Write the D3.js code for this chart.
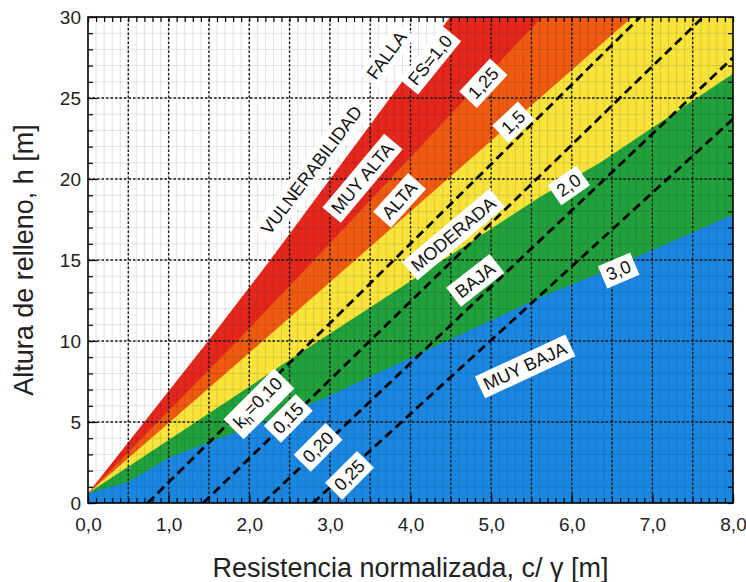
<!DOCTYPE html>
<html>
<head>
<meta charset="utf-8">
<script src="https://cdn.jsdelivr.net/npm/d3@7"></script>
<style>
  body { margin: 0; background: #fff; }
  text { font-family: "Liberation Sans", Arial, sans-serif; }
</style>
</head>
<body>
<div id="container"></div>
<script>
/* CONSTANTS AND GLOBALS */
const width = 746, height = 582;
const margin = { top: 17, left: 88, right: 13, bottom: 79 };

/* DATA */
// FS boundaries, points [c/gamma, h]
const fs10 = [[0, 0.6], [1.49, 10], [2.26, 15], [4.49, 30]];
const fs125 = [[0, 0.6], [1.85, 10], [2.75, 14.7], [5.63, 30]];
const fs15 = [[0, 0.6], [2.17, 10], [6.75, 30]];
const fs20 = [[0, 0.6], [2.63, 9.26], [5.61, 18.9], [6.35, 21.0], [8, 26.5]];
const fs30 = [[0, 0.6], [0.5, 1.3], [1.0, 2.8], [2.88, 6.36], [5.61, 12.7], [6.35, 14.2], [8, 17.8]];

// seismic coefficient lines (dashed)
const kh10 = [[0.74, 0], [6.85, 30]];
const kh15 = [[1.43, 0], [7.63, 30]];
const kh20 = [[2.17, 0], [8, 27.5]];
const kh25 = [[2.79, 0], [8, 23.7]];

// zone colours, from the top zone (red) to the bottom one (blue)
const zoneColors = ["#e4271d", "#ee5a10", "#f9e43c", "#21a03b", "#1b86df"];

// labels
const labelText = ["VULNERABILIDAD", "FALLA", "FS=1,0", "1,25", "1,5", "2,0", "3,0",
  "MUY ALTA", "ALTA", "MODERADA", "BAJA", "MUY BAJA", "k_h=0,10", "0,15", "0,20", "0,25"];
const labelX = [2.77, 3.70, 4.24, 4.90, 5.27, 5.96, 6.58, 3.40, 3.86, 4.53, 4.80, 5.42, 2.11, 2.48, 2.85, 3.24];
const labelY = [20.56, 27.65, 27.35, 25.93, 23.52, 19.63, 14.38, 20.06, 18.70, 16.60, 13.77, 8.46, 6.17, 5.25, 3.46, 1.73];
const labelAngle = [53, 54, 51, 47, 43, 35, 23, 50, 48, 40, 38, 25, 45, 45, 45, 45];

/* SCALES */
const xScale = d3.scaleLinear().domain([0, 8]).range([margin.left, width - margin.right]);
const yScale = d3.scaleLinear().domain([0, 30]).range([height - margin.bottom, margin.top]);

const svg = d3.select("#container")
  .append("svg")
  .attr("width", width)
  .attr("height", height);

svg.append("clipPath")
  .attr("id", "plot-clip")
  .append("rect")
  .attr("x", xScale(0))
  .attr("y", yScale(30))
  .attr("width", xScale(8) - xScale(0))
  .attr("height", yScale(0) - yScale(30));

const line = d3.line().x(d => xScale(d[0])).y(d => yScale(d[1]));

// polygon below / right of a boundary
function zonePolygon(pts) {
  const poly = [[0, 0], ...pts];
  const last = pts[pts.length - 1];
  if (last[1] >= 30 && last[0] < 8) poly.push([8, 30]);
  poly.push([8, 0]);
  return poly;
}

const plot = svg.append("g").attr("clip-path", "url(#plot-clip)");

// ZONES ----------------------------------------------
plot.selectAll(".zone")
  .data([fs10, fs125, fs15, fs20, fs30])
  .join("path")
  .attr("class", "zone")
  .attr("d", d => line(zonePolygon(d)) + "Z")
  .attr("fill", (_, i) => zoneColors[i]);

// GRID ----------------------------------------------
const minorX = d3.range(1, 80).map(i => i / 10);
const minorY = d3.range(1, 30);
const majorX = d3.range(1, 16).map(i => i / 2);
const majorY = d3.range(5, 30, 5);

plot.selectAll(".minor-x")
  .data(minorX)
  .join("line")
  .attr("x1", d => xScale(d)).attr("x2", d => xScale(d))
  .attr("y1", yScale(0)).attr("y2", yScale(30))
  .attr("stroke", "#000").attr("stroke-opacity", 0.11).attr("stroke-width", 1);

plot.selectAll(".minor-y")
  .data(minorY)
  .join("line")
  .attr("y1", d => yScale(d)).attr("y2", d => yScale(d))
  .attr("x1", xScale(0)).attr("x2", xScale(8))
  .attr("stroke", "#000").attr("stroke-opacity", 0.11).attr("stroke-width", 1);

plot.selectAll(".major-x")
  .data(majorX)
  .join("line")
  .attr("x1", d => xScale(d)).attr("x2", d => xScale(d))
  .attr("y1", yScale(0)).attr("y2", yScale(30))
  .attr("stroke", "#1a1a1a").attr("stroke-width", 1.4).attr("stroke-dasharray", "2.5,2");

plot.selectAll(".major-y")
  .data(majorY)
  .join("line")
  .attr("y1", d => yScale(d)).attr("y2", d => yScale(d))
  .attr("x1", xScale(0)).attr("x2", xScale(8))
  .attr("stroke", "#1a1a1a").attr("stroke-width", 1.4).attr("stroke-dasharray", "2.5,2");

// KH LINES ----------------------------------------------
plot.selectAll(".kh")
  .data([kh10, kh15, kh20, kh25])
  .join("path")
  .attr("class", "kh")
  .attr("d", line)
  .attr("fill", "none")
  .attr("stroke", "#000")
  .attr("stroke-width", 2.8)
  .attr("stroke-dasharray", "9,5");

// LABELS ----------------------------------------------
const labels = svg.selectAll(".label")
  .data(labelText)
  .join("g")
  .attr("class", "label")
  .attr("transform", (_, i) => `translate(${xScale(labelX[i])},${yScale(labelY[i])}) rotate(${-labelAngle[i]})`);

labels.each(function (d) {
  const g = d3.select(this);
  const t = g.append("text")
    .attr("text-anchor", "middle")
    .attr("dy", "0.36em")
    .style("font-size", "18px")
    .attr("fill", "#111");
  if (d.startsWith("k_h")) {
    t.append("tspan").text("k");
    t.append("tspan").text("h").attr("dy", "0.3em").style("font-size", "13px");
    t.append("tspan").text(d.slice(3)).attr("dy", "-0.3em");
  } else {
    t.text(d);
  }
  const b = t.node().getBBox();
  g.insert("rect", "text")
    .attr("x", b.x - 5)
    .attr("y", b.y - 2)
    .attr("width", b.width + 10)
    .attr("height", b.height + 4)
    .attr("fill", "#fff");
});

// FRAME AND TICKS ----------------------------------------------
const fmtX = d => d.toFixed(1).replace(".", ",");

svg.append("g")
  .attr("transform", `translate(0,${yScale(0)})`)
  .call(d3.axisBottom(xScale).tickValues(d3.range(0, 81).map(i => i / 10)).tickSize(-5).tickFormat(""));
svg.append("g")
  .attr("transform", `translate(0,${yScale(30)})`)
  .call(d3.axisTop(xScale).tickValues(d3.range(0, 81).map(i => i / 10)).tickSize(-5).tickFormat(""));
svg.append("g")
  .attr("transform", `translate(${xScale(0)},0)`)
  .call(d3.axisLeft(yScale).tickValues(d3.range(0, 31)).tickSize(-5).tickFormat(""));
svg.append("g")
  .attr("transform", `translate(${xScale(8)},0)`)
  .call(d3.axisRight(yScale).tickValues(d3.range(0, 31)).tickSize(-5).tickFormat(""));

svg.append("g")
  .attr("transform", `translate(0,${yScale(0)})`)
  .call(d3.axisBottom(xScale).tickValues(d3.range(0, 9)).tickSize(-9).tickPadding(15).tickFormat(fmtX));
svg.append("g")
  .attr("transform", `translate(${xScale(0)},0)`)
  .call(d3.axisLeft(yScale).tickValues(d3.range(0, 31, 5)).tickSize(-9).tickPadding(7));

svg.selectAll(".domain").remove();
svg.selectAll(".tick line").attr("stroke", "#000").attr("stroke-width", 1.2);
svg.selectAll(".tick text").style("font-size", "19px").attr("fill", "#222");

svg.append("rect")
  .attr("x", xScale(0))
  .attr("y", yScale(30))
  .attr("width", xScale(8) - xScale(0))
  .attr("height", yScale(0) - yScale(30))
  .attr("fill", "none")
  .attr("stroke", "#000")
  .attr("stroke-width", 1.6);

// AXIS TITLES ----------------------------------------------
svg.append("text")
  .attr("text-anchor", "middle")
  .attr("x", (xScale(0) + xScale(8)) / 2)
  .attr("y", 577)
  .style("font-size", "27px")
  .attr("fill", "#222")
  .text("Resistencia normalizada, c/ \u03b3 [m]");

svg.append("text")
  .attr("text-anchor", "middle")
  .attr("transform", `translate(33,${(yScale(0) + yScale(30)) / 2}) rotate(-90)`)
  .style("font-size", "27px")
  .attr("fill", "#222")
  .text("Altura de relleno, h [m]");
</script>
</body>
</html>
